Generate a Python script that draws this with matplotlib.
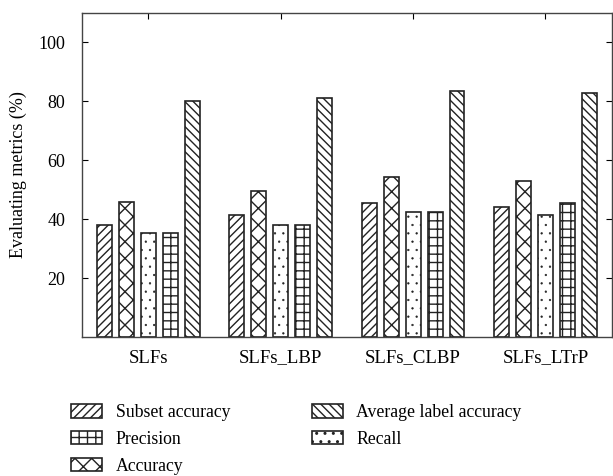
import numpy as np
import matplotlib
matplotlib.use("Agg")
import matplotlib.pyplot as plt

plt.rcParams["font.family"] = ["Liberation Serif", "DejaVu Serif"]
plt.rcParams["hatch.linewidth"] = 1.0

groups = ["SLFs", "SLFs_LBP", "SLFs_CLBP", "SLFs_LTrP"]

# bar order inside each group, left to right
subset_accuracy = [38.1, 41.3, 45.5, 44.0]
accuracy = [45.8, 49.4, 54.3, 52.8]
recall = [35.2, 38.1, 42.3, 41.3]
precision = [35.4, 37.9, 42.3, 45.5]
average_label_accuracy = [80.1, 81.1, 83.6, 82.9]

series = [
    ("Subset accuracy", subset_accuracy, "////"),
    ("Accuracy", accuracy, "xx"),
    ("Recall", recall, ".."),
    ("Precision", precision, "++"),
    ("Average label accuracy", average_label_accuracy, "\\\\\\\\"),
]

fig = plt.figure(figsize=(6.13, 4.76), dpi=100)
ax = fig.add_axes([0.1338, 0.292, 0.864, 0.681])

x = np.arange(1, len(groups) + 1)
pitch = 0.166
width = 0.113
handles = {}
for i, (name, vals, hatch) in enumerate(series):
    bars = ax.bar(x + (i - 2) * pitch, vals, width, color="white",
                  edgecolor="#222222", linewidth=1.2, hatch=hatch, label=name)
    if name == "Recall":
        for b in bars:
            try:
                b.set_hatch_linewidth(0.4)
            except AttributeError:
                pass
    handles[name] = bars

ax.set_xlim(0.5, 4.5)
ax.set_ylim(0, 110)
ax.set_xticks(x)
ax.set_xticklabels(groups, fontsize=13.5)
ax.set_yticks([20, 40, 60, 80, 100])
ax.tick_params(axis="y", labelsize=13, direction="in", right=True, length=4, pad=12)
ax.tick_params(axis="x", direction="in", top=True, bottom=False, length=4, pad=9)
ax.set_ylabel("Evaluating metrics (%)", fontsize=13)
ax.yaxis.set_label_coords(-0.103, 0.5)
for s in ax.spines.values():
    s.set_linewidth(1.0)
    s.set_color("#444444")

order = ["Subset accuracy", "Precision", "Accuracy", "Average label accuracy", "Recall"]
fig.legend([handles[n] for n in order], order, ncol=2, frameon=False,
           loc="lower left", bbox_to_anchor=(0.09, -0.031), fontsize=12.8,
           handlelength=1.75, handleheight=0.75, columnspacing=4.6,
           labelspacing=0.55, handletextpad=0.75)

fig.savefig("out.png", dpi=100)
